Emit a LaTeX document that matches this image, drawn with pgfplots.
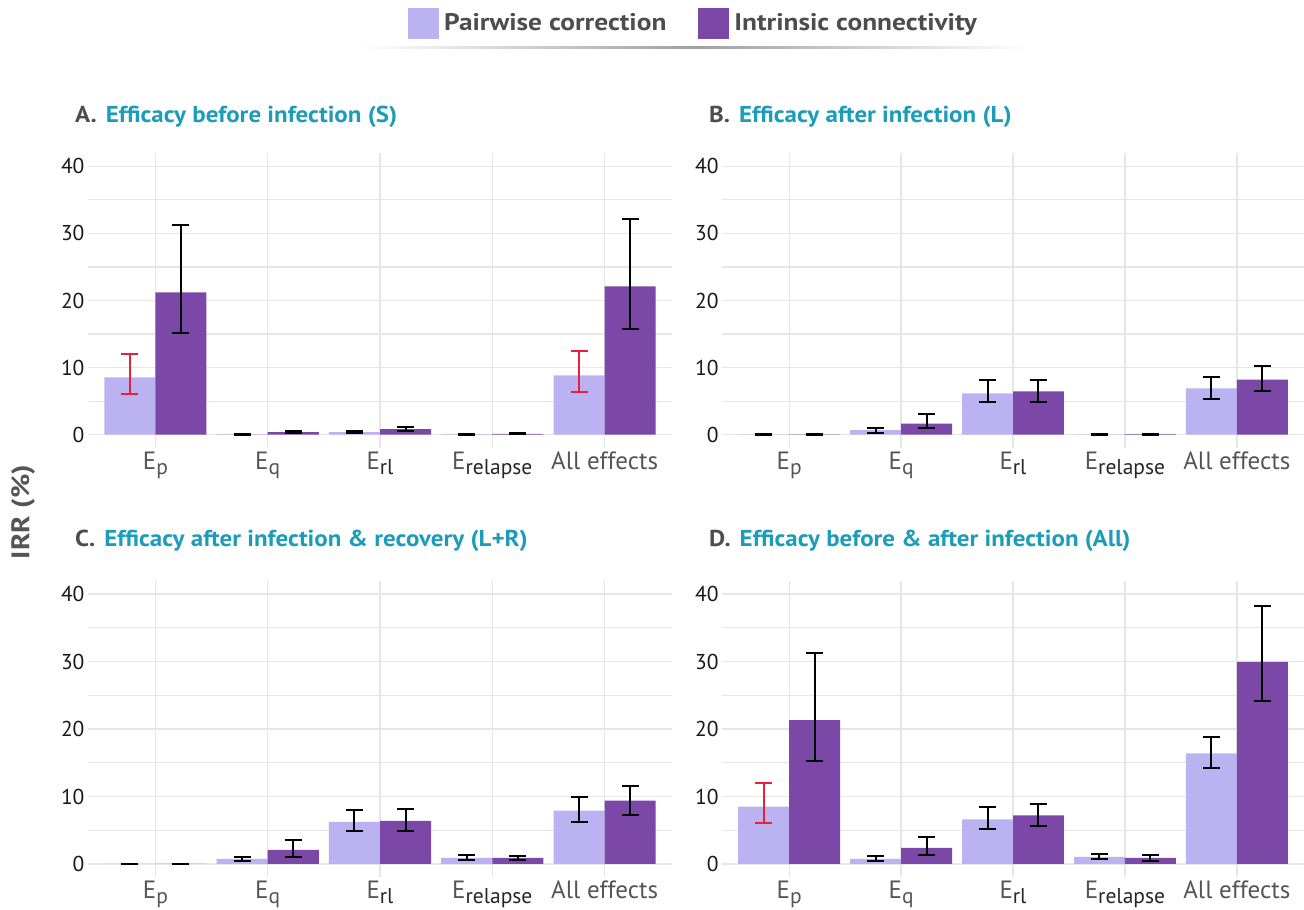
\documentclass[border=0pt]{standalone}
\usepackage{fontspec}
\setmainfont{PT Sans}[BoldFeatures={FakeStretch=1.14}]
\newfontfamily\titfont{PT Sans}[BoldFeatures={FakeStretch=1.085}]
\usepackage{pgfplots}
\pgfplotsset{compat=1.18}
\definecolor{light}{HTML}{BBB2F2}
\definecolor{dark}{HTML}{7B48A8}
\definecolor{teal2}{HTML}{1C9CB8}
\definecolor{errred}{HTML}{E8203C}
\definecolor{gridc}{HTML}{E6E6E6}
\definecolor{labgray}{HTML}{555555}
\definecolor{titgray}{HTML}{4D4D4D}
\newcommand{\Es}[2][labgray]{E\raisebox{-5pt}{\fontsize{21.5}{21.5}\selectfont\color{#1}#2}}
\pgfplotsset{
  panel/.style={
    scale only axis, anchor=south west,
    width=584pt, height=295pt,
    xmin=-0.6, xmax=4.6, ymin=-2, ymax=42,
    axis line style={draw=none},
    major tick length=0pt, minor tick length=0pt,
    xtick={0,1,2,3,4},
    xticklabels={\Es{p},\Es{q},\Es[black!85]{rl},\Es[black!85]{relapse},All effects},
    ytick={0,10,20,30,40}, minor ytick={5,15,25,35},
    xmajorgrids, ymajorgrids, yminorgrids,
    major grid style={draw=gridc, line width=1.3pt},
    minor grid style={draw=gridc, line width=1.1pt},
    /pgf/number format/assume math mode=true,
    xticklabel style={text=labgray, font=\fontsize{25}{28}\selectfont, yshift=0pt},
    yticklabel style={text=black!90, font=\fontsize{21.5}{24}\selectfont, xshift=0pt},
    clip=false,
  },
  lbar/.style={ybar, bar width=0.455, bar shift=0pt, fill=light, draw=none},
  dbar/.style={ybar, bar width=0.455, bar shift=0pt, fill=dark, draw=none},
  errs/.style={draw=none, mark=none, forget plot,
    error bars/.cd, y dir=both, y explicit, error mark=|,
    error bar style={draw=#1, line width=2pt},
    error mark options={draw=#1, line width=2pt, mark size=8.5pt}},
}
\begin{document}
\begin{tikzpicture}
\path[use as bounding box] (0pt,0pt) rectangle (1304pt,910pt);
% legend shadow line
\shade[left color=white, right color=white, middle color=gray!75] (360pt,861pt) rectangle (1030pt,863pt);
% y label
\node[rotate=90, text=labgray, font=\bfseries\fontsize{25.5}{28}\selectfont] at (23pt,398pt) {IRR (\%)};
% titles
\node[anchor=base west, inner sep=0pt, font=\titfont\bfseries\fontsize{23}{26}\selectfont] at (75pt,787pt) {\textcolor{titgray}{A.}\hspace{9pt}\textcolor{teal2}{Efficacy before infection (S)}};
\node[anchor=base west, inner sep=0pt, font=\titfont\bfseries\fontsize{23}{26}\selectfont] at (709pt,787pt) {\textcolor{titgray}{B.}\hspace{9pt}\textcolor{teal2}{Efficacy after infection (L)}};
\node[anchor=base west, inner sep=0pt, font=\titfont\bfseries\fontsize{23}{26}\selectfont] at (75pt,363pt) {\textcolor{titgray}{C.}\hspace{9pt}\textcolor{teal2}{Efficacy after infection \& recovery (L+R)}};
\node[anchor=base west, inner sep=0pt, font=\titfont\bfseries\fontsize{23}{26}\selectfont] at (709pt,363pt) {\textcolor{titgray}{D.}\hspace{9pt}\textcolor{teal2}{Efficacy before \& after infection (All)}};

% ---------- Panel A ----------
\begin{axis}[panel, at={(88pt,462pt)},
  legend columns=2,
  legend style={at={(axis description cs:1.037,1.44)}, anchor=center, draw=none, fill=none,
    font=\bfseries\fontsize{24}{27}\selectfont, text=titgray,
    /tikz/every odd column/.append style={column sep=3pt},
    /tikz/every even column/.append style={column sep=30pt}},
  legend cell align=left]
\addplot[lbar, legend image code/.code={\fill[light] (0pt,-15.5pt) rectangle (31pt,15.5pt);}]
  coordinates {(-0.2275,8.55) (0.7725,0.05) (1.7725,0.35) (2.7725,0.05) (3.7725,8.85)};
\addlegendentry{Pairwise correction}
\addplot[dbar, legend image code/.code={\fill[dark] (0pt,-15.5pt) rectangle (31pt,15.5pt);}]
  coordinates {(0.2275,21.2) (1.2275,0.35) (2.2275,0.8) (3.2275,0.1) (4.2275,22.1)};
\addlegendentry{Intrinsic connectivity}
\addplot[errs=black] coordinates {
  (0.7725,0.05) += (0,0.05) -= (0,0.05)
  (1.7725,0.35) += (0,0.12) -= (0,0.1)
  (2.7725,0.05) += (0,0.05) -= (0,0.05)
  (0.2275,21.2) += (0,10.0) -= (0,6.1)
  (1.2275,0.35) += (0,0.25) -= (0,0.15)
  (2.2275,0.8) += (0,0.3) -= (0,0.25)
  (3.2275,0.1) += (0,0.08) -= (0,0.05)
  (4.2275,22.1) += (0,10.1) -= (0,6.3)};
\addplot[errs=errred] coordinates {
  (-0.2275,8.55) += (0,3.4) -= (0,2.5)
  (3.7725,8.85) += (0,3.55) -= (0,2.45)};
\end{axis}

% ---------- Panel B ----------
\begin{axis}[panel, at={(722pt,462pt)}, width=582pt]
\addplot[lbar, forget plot]
  coordinates {(-0.2275,0.02) (0.7725,0.65) (1.7725,6.15) (2.7725,0.03) (3.7725,6.9)};
\addplot[dbar, forget plot]
  coordinates {(0.2275,0.02) (1.2275,1.65) (2.2275,6.45) (3.2275,0.05) (4.2275,8.2)};
\addplot[errs=black] coordinates {
  (-0.2275,0.02) += (0,0.04) -= (0,0.02)
  (0.7725,0.65) += (0,0.35) -= (0,0.35)
  (1.7725,6.15) += (0,1.95) -= (0,1.25)
  (2.7725,0.03) += (0,0.04) -= (0,0.03)
  (3.7725,6.9) += (0,1.7) -= (0,1.6)
  (0.2275,0.02) += (0,0.04) -= (0,0.02)
  (1.2275,1.65) += (0,1.35) -= (0,0.65)
  (2.2275,6.45) += (0,1.75) -= (0,1.55)
  (3.2275,0.05) += (0,0.05) -= (0,0.04)
  (4.2275,8.2) += (0,2.0) -= (0,1.75)};
\end{axis}

% ---------- Panel C ----------
\begin{axis}[panel, at={(88pt,32.5pt)}, height=297pt]
\addplot[lbar, forget plot]
  coordinates {(-0.2275,0.02) (0.7725,0.75) (1.7725,6.25) (2.7725,0.9) (3.7725,7.9)};
\addplot[dbar, forget plot]
  coordinates {(0.2275,0.02) (1.2275,2.1) (2.2275,6.4) (3.2275,0.9) (4.2275,9.4)};
\addplot[errs=black] coordinates {
  (-0.2275,0.02) += (0,0.04) -= (0,0.02)
  (0.7725,0.75) += (0,0.35) -= (0,0.35)
  (1.7725,6.25) += (0,1.8) -= (0,1.35)
  (2.7725,0.9) += (0,0.5) -= (0,0.25)
  (3.7725,7.9) += (0,2.0) -= (0,1.65)
  (0.2275,0.02) += (0,0.04) -= (0,0.02)
  (1.2275,2.1) += (0,1.4) -= (0,1.0)
  (2.2275,6.4) += (0,1.7) -= (0,1.5)
  (3.2275,0.9) += (0,0.35) -= (0,0.35)
  (4.2275,9.4) += (0,2.2) -= (0,2.1)};
\end{axis}

% ---------- Panel D ----------
\begin{axis}[panel, at={(722pt,32.5pt)}, width=582pt, height=297pt]
\addplot[lbar, forget plot]
  coordinates {(-0.2275,8.5) (0.7725,0.75) (1.7725,6.6) (2.7725,1.05) (3.7725,16.4)};
\addplot[dbar, forget plot]
  coordinates {(0.2275,21.3) (1.2275,2.4) (2.2275,7.2) (3.2275,0.9) (4.2275,29.95)};
\addplot[errs=black] coordinates {
  (0.7725,0.75) += (0,0.45) -= (0,0.3)
  (1.7725,6.6) += (0,1.8) -= (0,1.4)
  (2.7725,1.05) += (0,0.4) -= (0,0.35)
  (3.7725,16.4) += (0,2.4) -= (0,2.2)
  (0.2275,21.3) += (0,9.9) -= (0,6.1)
  (1.2275,2.4) += (0,1.6) -= (0,1.1)
  (2.2275,7.2) += (0,1.7) -= (0,1.5)
  (3.2275,0.9) += (0,0.45) -= (0,0.4)
  (4.2275,29.95) += (0,8.25) -= (0,5.85)};
\addplot[errs=errred] coordinates {
  (-0.2275,8.5) += (0,3.5) -= (0,2.5)};
\end{axis}
\end{tikzpicture}
\end{document}
